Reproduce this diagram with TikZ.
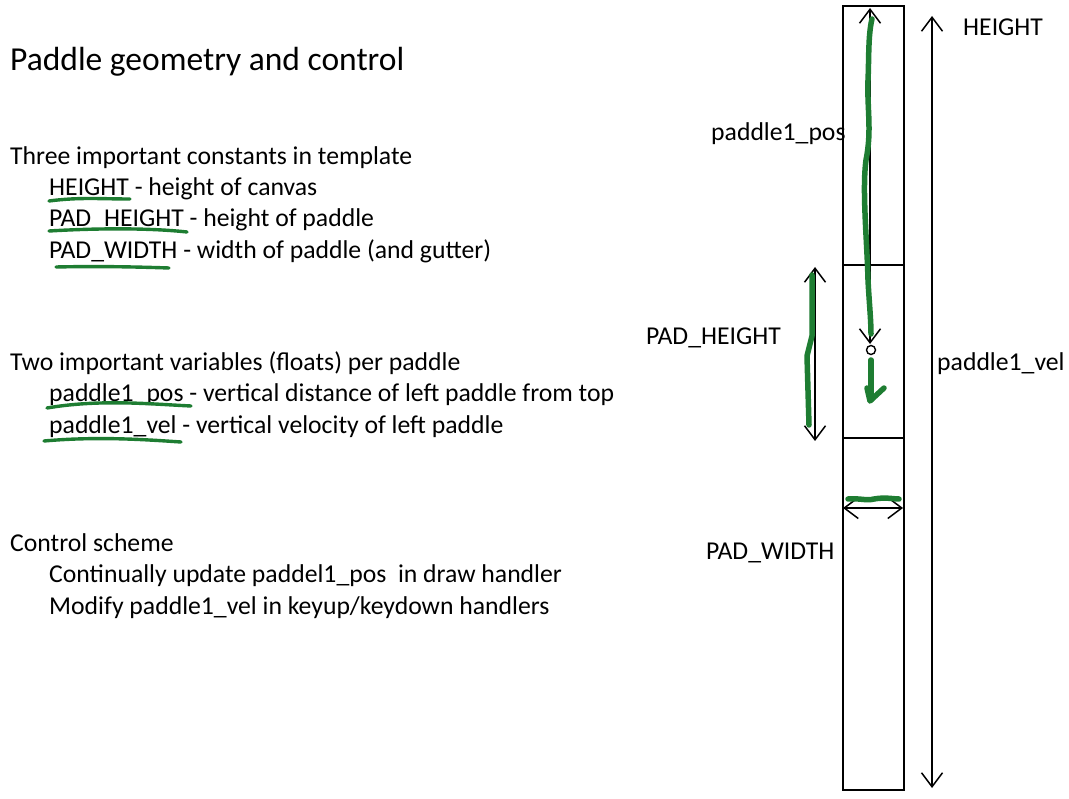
\documentclass[tikz,border=0pt]{standalone}
\usepackage{fontspec}
\setmainfont{Carlito}
\usetikzlibrary{arrows.meta}
\definecolor{pen}{RGB}{30,125,50}
\tikzset{
  txt/.style={anchor=base west, inner sep=0pt, font=\fontsize{25.7}{28}\selectfont},
  ttl/.style={anchor=base west, inner sep=0pt, font=\fontsize{33.5}{36}\selectfont},
  box/.style={draw=black, line width=2.6pt},
  dim/.style={draw=black, line width=1.1pt, {Straight Barb[length=14pt,width=21pt,line width=1.5pt]}-{Straight Barb[length=14pt,width=21pt,line width=1.5pt]}},
  green/.style={draw=pen, line width=5.5pt, line cap=round, line join=round},
  thin green/.style={draw=pen, line width=3.4pt, line cap=round, line join=round},
}
\begin{document}
\begin{tikzpicture}[x=1pt,y=-1pt]
\useasboundingbox (0,0) rectangle (1069,799);
% left texts
\node[ttl] (title) at (10,71) {Paddle geometry and control};
\node[txt] (c0) at (10,165) {Three important constants in template};
\node[txt] (c1) at (49,196) {HEIGHT - height of canvas};
\node[txt] (c2) at (49,227) {PAD\_HEIGHT - height of paddle};
\node[txt] (c3) at (49,259) {PAD\_WIDTH - width of paddle (and gutter)};
\node[txt] (v0) at (10,371) {Two important variables (floats) per paddle};
\node[txt] (v1) at (49,402) {paddle1\_pos - vertical distance of left paddle from top};
\node[txt] (v2) at (49,434) {paddle1\_vel - vertical velocity of left paddle};
\node[txt] (s0) at (10,551) {Control scheme};
\node[txt] (s1) at (49,582) {Continually update paddel1\_pos\ \ in draw handler};
\node[txt] (s2) at (49,614) {Modify paddle1\_vel in keyup/keydown handlers};
% underlines
\draw[thin green] (49,201) .. controls (80,197) and (100,199) .. (130,199);
\draw[thin green] (49,231) .. controls (100,228) and (150,228) .. (187,232);
\draw[thin green] (56,267) .. controls (100,266) and (140,267) .. (169,268);
\draw[thin green] (47,408) .. controls (100,399) and (150,404) .. (191,406);
\draw[thin green] (44,441) .. controls (100,436) and (150,440) .. (181,442);
% right diagram
\draw[box] (843,6) rectangle (904,790);
\draw[box] (843,265) -- (904,265);
\draw[box] (843,438) -- (904,438);
% labels
\node[txt] (lh) at (963,36) {HEIGHT};
\node[txt] (lp) at (711,141) {paddle1\_pos};
\node[txt] (lph) at (646,345) {PAD\_HEIGHT};
\node[txt] (lv) at (937,371) {paddle1\_vel};
\node[txt] (lw) at (706,559) {PAD\_WIDTH};
% dimension arrows
\coordinate (ht) at (932,16);
\coordinate (hb) at (932,788);
\draw[dim] (ht) -- (hb);
\coordinate (pt) at (870,8);
\coordinate (pb) at (870,344);
\draw[dim] (pt) -- (pb);
\draw[line width=1.4pt] (871,350) circle (4.5);
\coordinate (pht) at (815,267);
\coordinate (phb) at (815,441);
\draw[dim] (pht) -- (phb);
\coordinate (wl) at (843,508);
\coordinate (wr) at (903,508);
\draw[dim] (wl) -- (wr);
% green strokes
\draw[green] (872,19) .. controls (868,35) and (869,60) .. (868,80)
  .. controls (867,110) and (872,130) .. (866,160) .. controls (862,190) and (867,240) .. (868,280)
  .. controls (869,300) and (871,320) .. (871,334);
\draw[green] (871,360) -- (871,400);
\draw[green] (867,388) -- (870,401) -- (884,388);
\draw[green] (812,275) -- (812,336) -- (807,356) -- (809,425);
\draw[green] (848,499) .. controls (860,498) and (866,501) .. (874,499) .. controls (885,497) and (893,499) .. (899,499);
\end{tikzpicture}
\end{document}
